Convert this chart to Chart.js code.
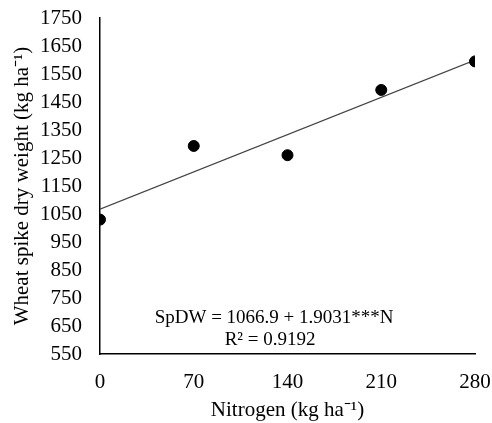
<!DOCTYPE html>
<html>
<head>
<meta charset="utf-8">
<script src="https://cdn.jsdelivr.net/npm/chart.js@4"></script>
<style>
  body { margin: 0; background: #fff; }
  canvas { display: block; }
</style>
</head>
<body>
<canvas id="chart" width="492" height="423"></canvas>
<script>
//Data
const nitrogen = [0, 70, 140, 210, 280];
const spikeWeight = [1030, 1293, 1260, 1493, 1595];
//Trend line end points (from the fitted equation)
const trendX = [0, 280];
const trendY = [1066.9, 1599.8];
//Tick labels
const xTicks = [0, 70, 140, 210, 280];
const yTicks = [550, 650, 750, 850, 950, 1050, 1150, 1250, 1350, 1450, 1550, 1650, 1750];
//Equation text
const equationLines = ["SpDW = 1066.9 + 1.9031***N", "R\u00b2 = 0.9192"];

const serif = "'Liberation Serif', 'Times New Roman', serif";

//Plugin to write the equation on the plot
const equationPlugin = {
  id: "equation",
  afterDatasetsDraw(chart) {
    const ctx = chart.ctx;
    const xs = chart.scales.x;
    const ys = chart.scales.y;
    ctx.save();
    ctx.fillStyle = "#000";
    ctx.font = "19px " + serif;
    ctx.textAlign = "center";
    ctx.textBaseline = "middle";
    ctx.fillText(equationLines[0], xs.getPixelForValue(130), ys.getPixelForValue(678));
    ctx.fillText(equationLines[1], xs.getPixelForValue(127), ys.getPixelForValue(600));
    ctx.restore();
  },
};

const data = {
  datasets: [
    {
      type: "scatter",
      data: nitrogen.map((n, i) => ({ x: n, y: spikeWeight[i] })),
      backgroundColor: "#000",
      borderColor: "#000",
      pointRadius: 5.5,
      order: 1,
    },
    {
      type: "line",
      data: trendX.map((n, i) => ({ x: n, y: trendY[i] })),
      borderColor: "#444",
      borderWidth: 1.2,
      pointRadius: 0,
      fill: false,
      order: 2,
    },
  ],
};

const config = {
  type: "scatter",
  data,
  options: {
    responsive: false,
    animation: false,
    layout: { padding: { top: 18, right: 17, left: 0, bottom: 0 } },
    plugins: {
      legend: { display: false },
      tooltip: { enabled: false },
    },
    scales: {
      x: {
        type: "linear",
        min: 0,
        max: 280,
        afterBuildTicks: (scale) => {
          scale.ticks = xTicks.map((v) => ({ value: v }));
        },
        afterFit: (scale) => {
          scale.height = 69;
          scale.paddingLeft = 0;
          scale.paddingRight = 0;
        },
        grid: { display: false, drawTicks: false },
        border: { display: true, color: "#000", width: 1.5 },
        ticks: {
          color: "#000",
          padding: 16,
          autoSkip: false,
          font: { family: serif, size: 21 },
          maxRotation: 0,
          callback: (v) => String(v),
        },
        title: {
          display: true,
          text: "Nitrogen (kg ha\u207b\u00b9)",
          color: "#000",
          font: { family: serif, size: 21 },
          padding: { top: 0, bottom: 0 },
        },
      },
      y: {
        type: "linear",
        min: 550,
        max: 1750,
        afterBuildTicks: (scale) => {
          scale.ticks = yTicks.map((v) => ({ value: v }));
        },
        afterFit: (scale) => {
          scale.width = 100;
          scale.paddingTop = 0;
          scale.paddingBottom = 0;
        },
        grid: { display: false, drawTicks: false },
        border: { display: true, color: "#000", width: 1.5 },
        ticks: {
          color: "#000",
          padding: 18,
          autoSkip: false,
          font: { family: serif, size: 21 },
          callback: (v) => String(v),
        },
        title: {
          display: true,
          text: "Wheat spike dry weight (kg ha\u207b\u00b9)",
          color: "#000",
          font: { family: serif, size: 21 },
          padding: { top: 10, bottom: 0 },
        },
      },
    },
  },
  plugins: [equationPlugin],
};

new Chart(document.getElementById("chart").getContext("2d"), config);
</script>
</body>
</html>
